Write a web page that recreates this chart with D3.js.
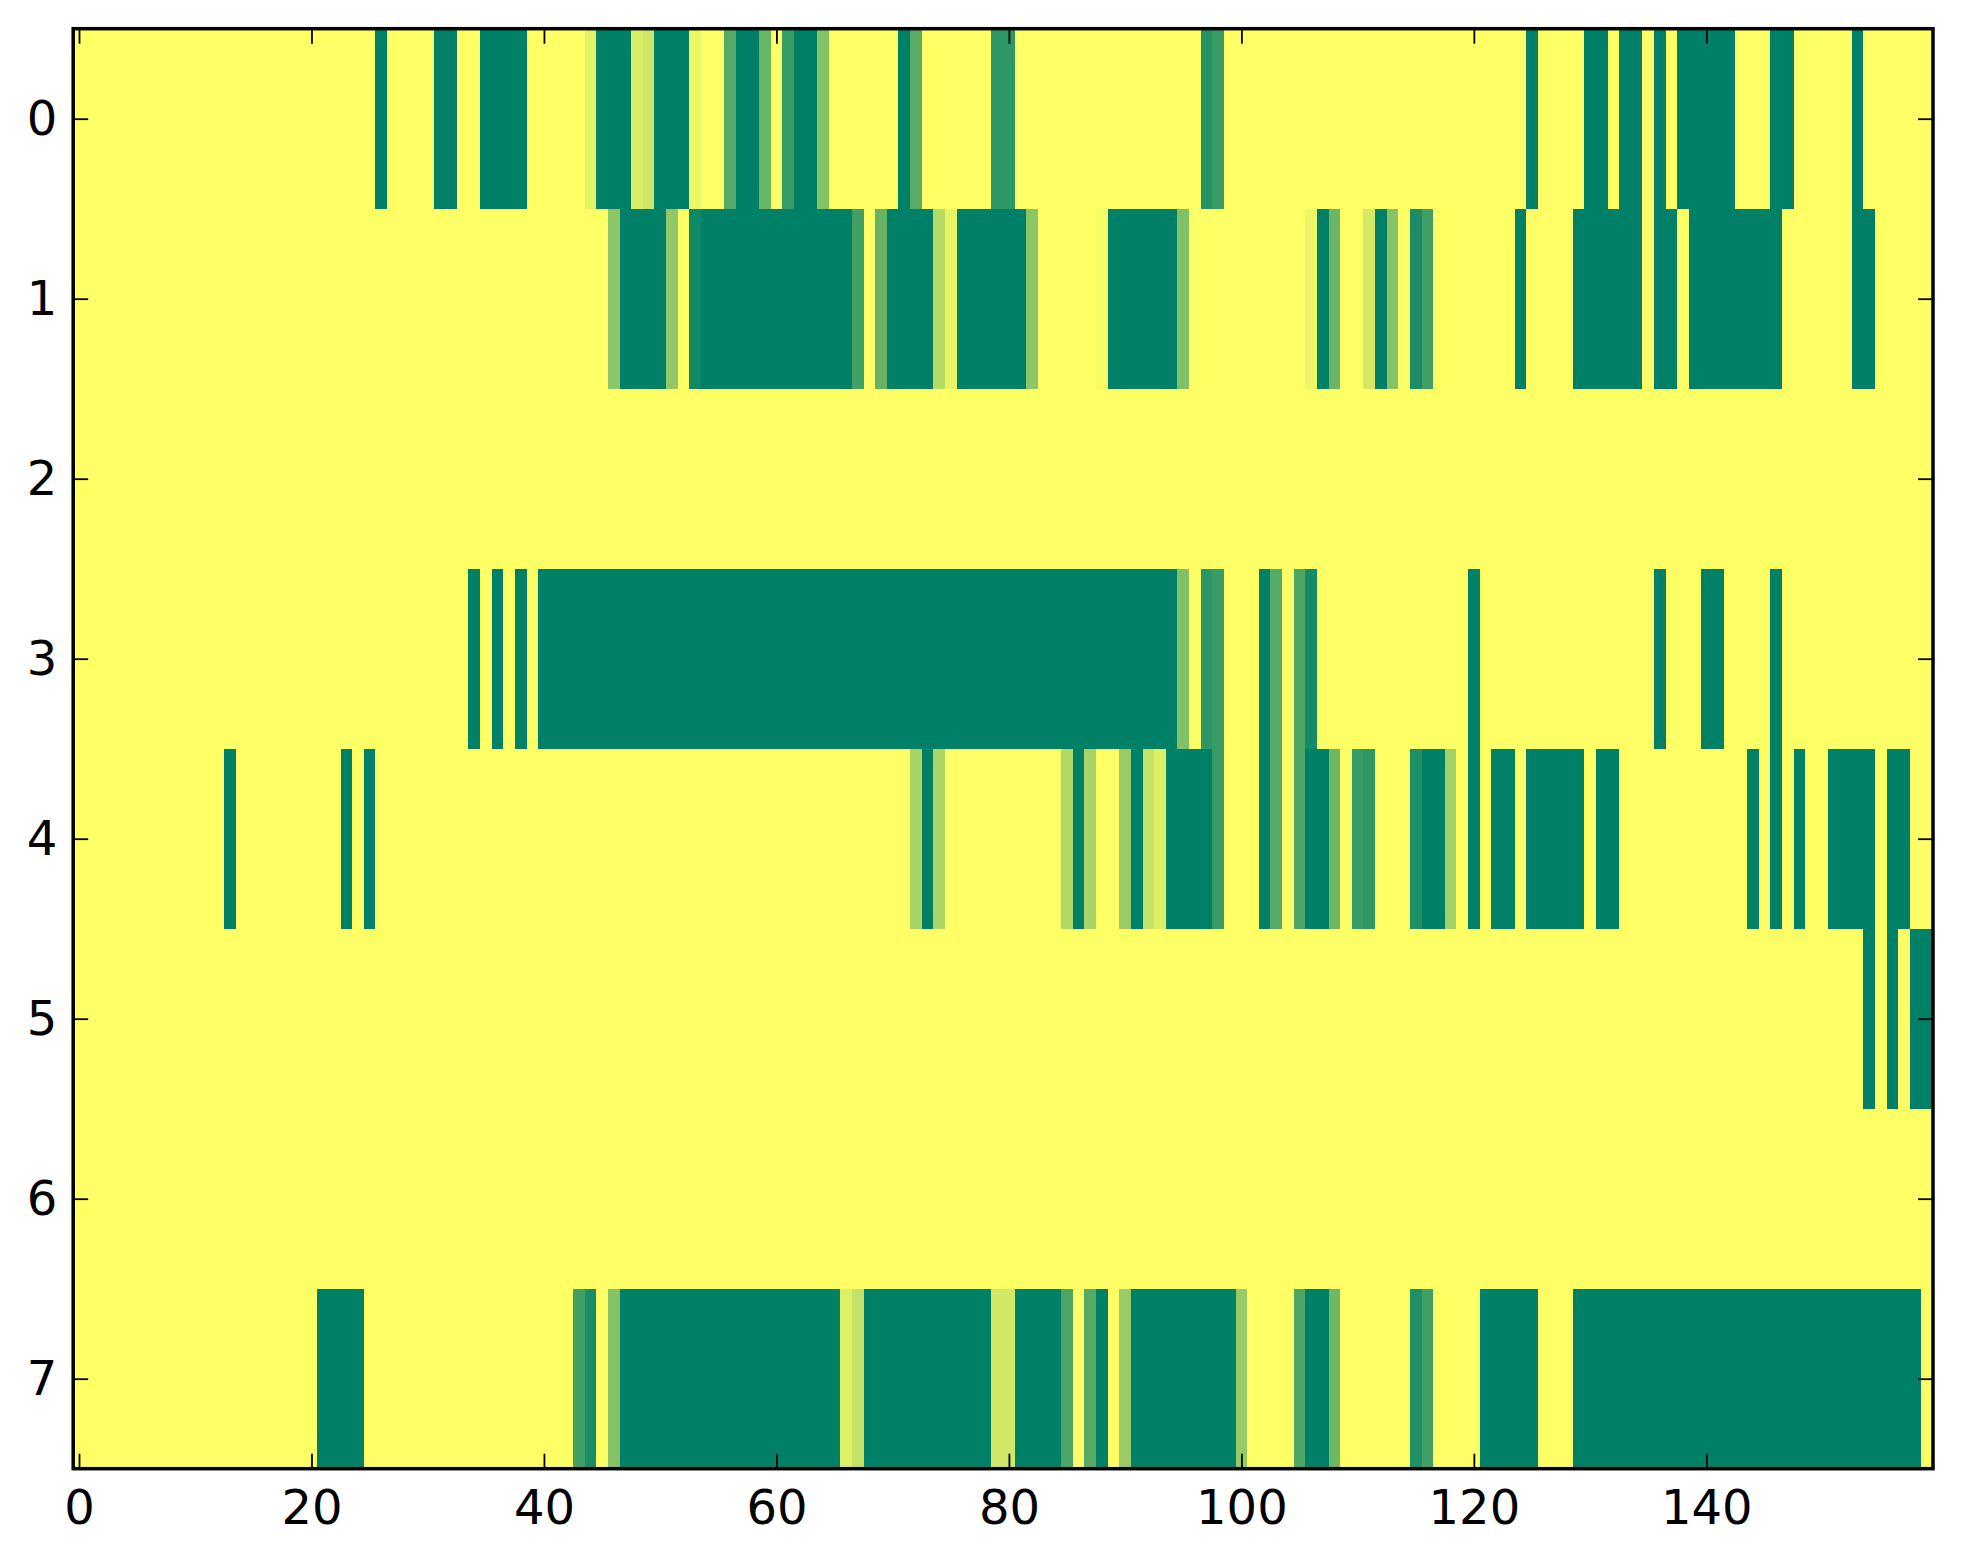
<!DOCTYPE html>
<html>
<head>
<meta charset="utf-8">
<script src="https://cdn.jsdelivr.net/npm/d3@7"></script>
<style>
  html, body { margin: 0; padding: 0; background: #fff; }
  text { font-family: "DejaVu Sans", sans-serif; }
</style>
</head>
<body>
<script>
// image size and number of cells
let width = 1963, height = 1564;
let nCols = 160;
let rowLabels = [0, 1, 2, 3, 4, 5, 6, 7];
let xTicks = [0, 20, 40, 60, 80, 100, 120, 140];

// each row: list of [firstCol, lastCol, value]; cells not listed are 0
let row0 = [[26,26,1],[31,32,1],[35,38,1],[44,44,0.1],[45,47,1],[48,48,0.15],[49,49,0.2],
  [50,52,1],[53,53,0.07],[56,56,0.67],[57,58,1],[59,59,0.58],[61,61,0.78],[62,63,1],
  [64,64,0.48],[71,71,1],[72,72,0.65],[79,80,0.82],[97,97,0.85],[98,98,0.78],[125,125,1],
  [130,131,1],[133,134,1],[136,136,1],[138,142,1],[146,147,1],[153,153,1]];
let row1 = [[46,46,0.45],[47,50,1],[51,51,0.43],[53,53,0.94],[54,66,1],[67,67,0.75],
  [69,69,0.6],[70,73,1],[74,74,0.29],[75,75,0.09],[76,81,1],[82,82,0.45],[88,88,0.03],
  [89,94,1],[95,95,0.5],[106,106,0.07],[107,107,1],[108,108,0.58],[111,111,0.17],
  [112,112,1],[113,113,0.47],[115,115,0.9],[116,116,0.75],[124,124,1],[129,134,1],
  [136,137,1],[139,146,1],[153,154,1]];
let row2 = [];
let row3 = [[34,34,1],[36,36,1],[38,38,1],[40,94,1],[95,95,0.5],[97,97,0.83],[98,98,0.78],
  [102,102,1],[103,103,0.67],[105,105,0.7],[106,106,0.92],[120,120,1],[136,136,1],
  [140,141,1],[146,146,1]];
let row4 = [[13,13,1],[23,23,1],[25,25,1],[72,72,0.34],[73,73,1],[74,74,0.33],[85,85,0.31],
  [86,86,1],[87,87,0.34],[90,90,0.4],[91,91,1],[92,92,0.23],[93,93,0.13],[94,97,1],
  [98,98,0.78],[102,102,1],[103,103,0.67],[105,105,0.7],[106,107,1],[108,108,0.57],
  [110,110,0.78],[111,111,0.82],[115,115,0.88],[116,117,1],[118,118,0.36],[120,120,1],
  [122,123,1],[125,129,1],[131,132,1],[144,144,1],[146,146,1],[148,148,1],[151,154,1],
  [156,157,1]];
let row5 = [[154,154,1],[156,156,1],[158,159,1]];
let row6 = [];
let row7 = [[21,24,1],[43,43,0.75],[44,44,0.9],[46,46,0.47],[47,65,1],[66,66,0.12],
  [67,67,0.23],[68,78,1],[79,80,0.18],[81,84,1],[85,85,0.7],[87,87,0.66],[88,88,1],
  [90,90,0.4],[91,99,1],[100,100,0.41],[105,105,0.7],[106,107,1],[108,108,0.57],
  [115,115,0.88],[116,116,0.75],[121,125,1],[129,158,1]];
let rows = [row0, row1, row2, row3, row4, row5, row6, row7];

// expand the segments into one cell per column
let cells = [];
rows.forEach(function(segs, r) {
  let vals = new Array(nCols).fill(0);
  segs.forEach(function(s) {
    for (let c = s[0]; c <= s[1]; c++) vals[c] = s[2];
  });
  vals.forEach(function(v, c) { cells.push({row: r, col: c, value: v}); });
});

// plot area
let plotLeft = 73.2, plotRight = 1933, plotTop = 28.7, plotBottom = 1468.7;

let x = d3.scaleLinear().domain([-0.5, nCols - 0.5]).range([plotLeft, plotRight]);
let y = d3.scaleLinear().domain([-0.5, rowLabels.length - 0.5]).range([plotTop, plotBottom]);

// summer_r colormap: 0 -> yellow, 1 -> green
let color = d3.scaleLinear().domain([0, 1]).range(["#ffff66", "#008066"]);

let svg = d3.select("body").append("svg")
  .attr("width", width)
  .attr("height", height);

svg.append("g")
  .attr("shape-rendering", "crispEdges")
  .selectAll("rect")
  .data(cells)
  .enter()
  .append("rect")
  .attr("x", d => x(d.col - 0.5))
  .attr("y", d => y(d.row - 0.5))
  .attr("width", d => x(d.col + 0.5) - x(d.col - 0.5) + 0.5)
  .attr("height", d => y(d.row + 0.5) - y(d.row - 0.5) + 0.5)
  .attr("fill", d => color(d.value));

// ticks point inward on all four sides
let tickLen = 15, fontSize = 48;

let gBottom = svg.append("g").attr("transform", "translate(0," + plotBottom + ")")
  .call(d3.axisBottom(x).tickValues(xTicks).tickSize(-tickLen).tickPadding(21));
let gTop = svg.append("g").attr("transform", "translate(0," + plotTop + ")")
  .call(d3.axisTop(x).tickValues(xTicks).tickSize(-tickLen).tickFormat(""));
let gLeft = svg.append("g").attr("transform", "translate(" + plotLeft + ",0)")
  .call(d3.axisLeft(y).tickValues(rowLabels).tickSize(-tickLen).tickPadding(16));
let gRight = svg.append("g").attr("transform", "translate(" + plotRight + ",0)")
  .call(d3.axisRight(y).tickValues(rowLabels).tickSize(-tickLen).tickFormat(""));

[gBottom, gTop, gLeft, gRight].forEach(function(g) {
  g.select(".domain").remove();
  g.selectAll(".tick line").attr("stroke", "#000").attr("stroke-width", 1.8);
  g.selectAll(".tick text")
    .attr("fill", "#000")
    .style("font-size", fontSize + "px")
    .style("font-family", "DejaVu Sans");
});

// frame
svg.append("rect")
  .attr("x", plotLeft)
  .attr("y", plotTop)
  .attr("width", plotRight - plotLeft)
  .attr("height", plotBottom - plotTop)
  .attr("fill", "none")
  .attr("stroke", "#000")
  .attr("stroke-width", 3.5);
</script>
</body>
</html>
